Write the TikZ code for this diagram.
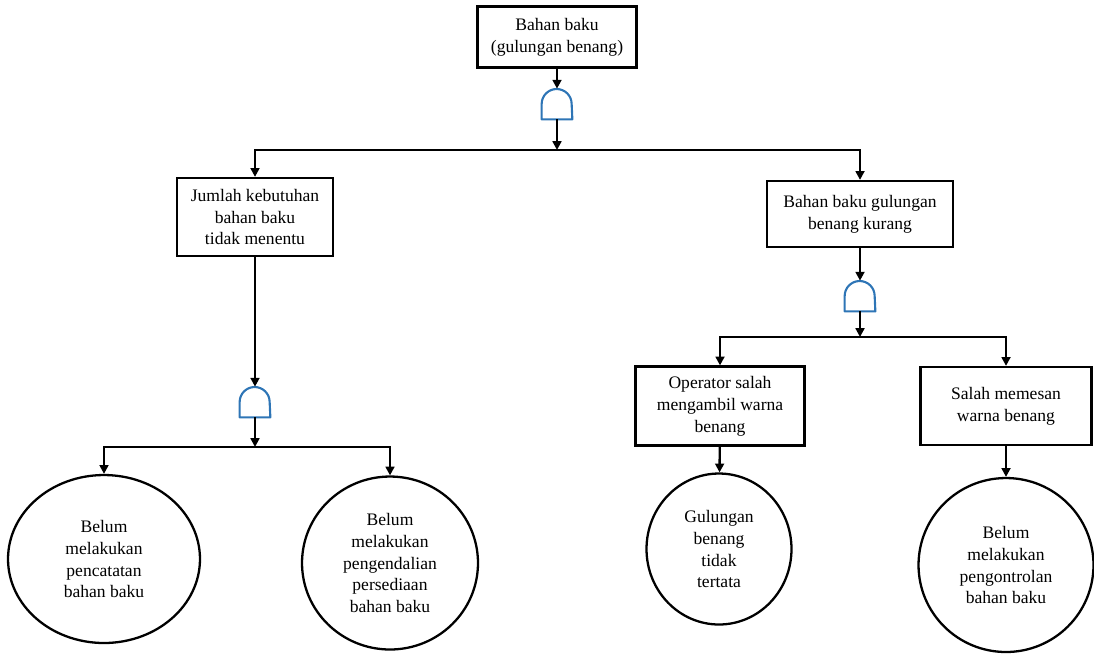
\documentclass[tikz,border=0pt]{standalone}
\usepackage{fontspec}
\setmainfont{Liberation Serif}
\usetikzlibrary{positioning,arrows.meta,shapes.geometric}
\definecolor{GateBlue}{HTML}{2E75B6}

\begin{document}
\begin{tikzpicture}[x=0.02cm, y=-0.02cm,
        evt/.style={draw, line width=1.3pt, align=center, inner sep=0pt, font=\fontsize{10}{12.5}\selectfont},
        basic/.style={ellipse, draw, line width=1.3pt, align=center, inner sep=0pt, font=\fontsize{10}{12.5}\selectfont},
        gate/.style={minimum width=0.6cm, minimum height=0.6cm, inner sep=0pt},
        gateline/.style={draw=GateBlue, line width=1.2pt, line join=round},
        arr/.style={line width=1.3pt, -{Triangle[length=5pt, width=5pt]}},
      ]
      \useasboundingbox (0,0) rectangle (1094,654);
      \node[evt, minimum width=3.18cm, minimum height=1.22cm] (top) at (557,37) {Bahan baku\\(gulungan benang)};
      \node[evt, minimum width=3.12cm, minimum height=1.56cm] (jumlah) at (255,217) {Jumlah kebutuhan\\bahan baku\\tidak menentu};
      \node[evt, minimum width=3.72cm, minimum height=1.32cm] (kurang) at (860,214) {Bahan baku gulungan\\benang kurang};
      \node[evt, minimum width=3.38cm, minimum height=1.58cm] (operator) at (720,406) {Operator salah\\mengambil warna\\benang};
      \node[evt, minimum width=3.42cm, minimum height=1.56cm] (memesan) at (1006,406) {Salah memesan\\warna benang};

      \node[basic, minimum width=3.84cm, minimum height=3.36cm] (catat) at (104,559) {Belum\\melakukan\\pencatatan\\bahan baku};
      \node[basic, minimum width=3.52cm, minimum height=3.46cm] (kendali) at (390,563) {Belum\\melakukan\\pengendalian\\persediaan\\bahan baku};
      \node[basic, minimum width=2.90cm, minimum height=3.02cm] (tertata) at (719,549) {Gulungan\\benang\\tidak\\tertata};
      \node[basic, minimum width=3.50cm, minimum height=3.48cm] (kontrol) at (1006,565) {Belum\\melakukan\\pengontrolan\\bahan baku};

      \node[gate] (g1) at (557,104) {};
      \node[gate] (g2) at (860,296) {};
      \node[gate] (g3) at (255,402) {};
      \foreach \g in {g1,g2,g3}
        \draw[gateline] (\g.south west) -- (\g.west) arc[start angle=180, end angle=0, radius=0.3cm] -- (\g.south east) -- cycle;

      \coordinate (j1) at (557,150);
      \coordinate (j2) at (860,337);
      \coordinate (j3) at (255,447);

      \draw[arr] (top) -- (g1);
      \draw[arr] (g1) -- (j1);
      \draw[arr] (j1) -| (jumlah);
      \draw[arr] (j1) -| (kurang);

      \draw[arr] (jumlah) -- (g3);
      \draw[arr] (g3) -- (j3);
      \draw[arr] (j3) -| (catat);
      \draw[arr] (j3) -| (kendali);

      \draw[arr] (kurang) -- (g2);
      \draw[arr] (g2) -- (j2);
      \draw[arr] (j2) -| (operator);
      \draw[arr] (j2) -| (memesan);

      \draw[arr] (operator) -- (tertata);
      \draw[arr] (memesan) -- (kontrol);
    \end{tikzpicture}
\end{document}
